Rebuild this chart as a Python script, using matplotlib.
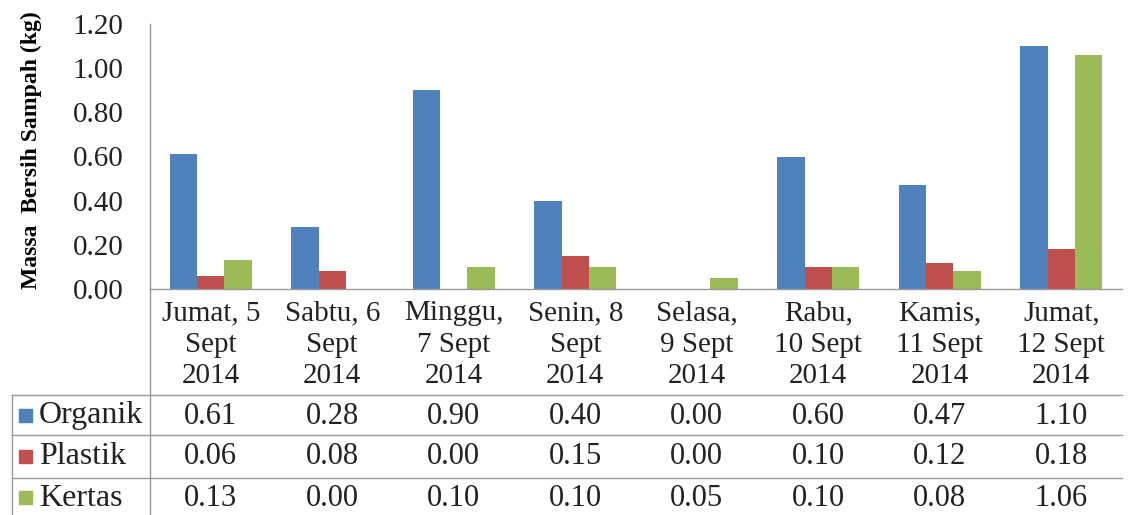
import numpy as np
import matplotlib.pyplot as plt
from matplotlib.lines import Line2D
from matplotlib.patches import Rectangle

days = ["Jumat, 5\nSept\n2014", "Sabtu, 6\nSept\n2014", "Minggu,\n7 Sept\n2014",
        "Senin, 8\nSept\n2014", "Selasa,\n9 Sept\n2014", "Rabu,\n10 Sept\n2014",
        "Kamis,\n11 Sept\n2014", "Jumat,\n12 Sept\n2014"]
series = ["Organik", "Plastik", "Kertas"]
organik = [0.61, 0.28, 0.90, 0.40, 0.00, 0.60, 0.47, 1.10]
plastik = [0.06, 0.08, 0.00, 0.15, 0.00, 0.10, 0.12, 0.18]
kertas = [0.13, 0.00, 0.10, 0.10, 0.05, 0.10, 0.08, 1.06]
colors = ["#4F81BD", "#C0504D", "#9BBB59"]

plt.rcParams['font.family'] = ['Liberation Serif', 'DejaVu Serif']
W, H = 1129, 515
fig = plt.figure(figsize=(W / 100, H / 100), dpi=100)

def fy(py):
    return 1 - py / H

x0, x1, ytop, ybot = 150, 1122, 24, 289
ax = fig.add_axes([x0 / W, fy(ybot), (x1 - x0) / W, (ybot - ytop) / H])

x = np.arange(len(days))
bw = 0.225
for k, vals in enumerate([organik, plastik, kertas]):
    ax.bar(x + (k - 1) * bw, vals, bw, color=colors[k], label=series[k])

ax.set_xlim(-0.5, len(days) - 0.5)
ax.set_ylim(0, 1.2)
ax.set_yticks(np.arange(0, 1.21, 0.2))
ax.set_yticklabels([f"{v:.2f}" for v in np.arange(0, 1.21, 0.2)], fontsize=21, color="#222222")
ax.tick_params(axis="y", length=0, pad=19)
ax.set_xticks([])
for s in ["top", "right"]:
    ax.spines[s].set_visible(False)
for s in ["left", "bottom"]:
    ax.spines[s].set_color("#999999")
    ax.spines[s].set_linewidth(1.0)

fig.text(31 / W, fy(150), "Massa  Bersih Sampah (kg)", rotation=90, fontsize=17,
         fontweight="bold", ha="center", va="center")

trans = ax.get_xaxis_transform()
for i, d in enumerate(days):
    for j, line in enumerate(d.split("\n")):
        ax.text(i, (ybot - (313 + j * 31.5)) / (ybot - ytop), line, transform=trans,
                ha="center", va="center", fontsize=21, color="#222222", clip_on=False)

# table
rows_y = [395, 435, 478]
centers = [416, 457, 498]
lc = "#999999"
for ry in rows_y:
    fig.add_artist(Line2D([12 / W, x1 / W], [fy(ry), fy(ry)], color=lc, lw=1.0))
fig.add_artist(Line2D([12 / W, 12 / W], [fy(395), 0], color=lc, lw=1.0))
fig.add_artist(Line2D([x0 / W, x0 / W], [fy(ybot), 0], color=lc, lw=1.0))

for k, vals in enumerate([organik, plastik, kertas]):
    cy = centers[k]
    fig.add_artist(Rectangle((19 / W, fy(cy + 6)), 13 / W, 13 / H, color=colors[k]))
    fig.text(39 / W, fy(cy), series[k], fontsize=23, ha="left", va="center", color="#222222")
    for i, v in enumerate(vals):
        ax.text(i, (ybot - cy) / (ybot - ytop), f"{v:.2f}", transform=trans,
                ha="center", va="center", fontsize=22, color="#222222", clip_on=False)

fig.savefig("out.png", dpi=100)
